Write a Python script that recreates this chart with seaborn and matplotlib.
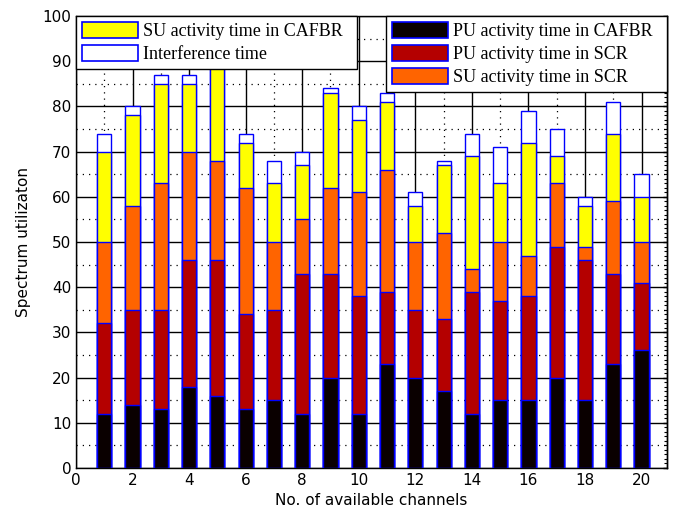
import numpy as np
import pandas as pd
import matplotlib
matplotlib.use("Agg")
import matplotlib.pyplot as plt
from matplotlib.patches import Patch
from matplotlib.ticker import MultipleLocator, NullFormatter
import seaborn as sns

# ---- data (segment heights, stacked bottom -> top) ----
channels = list(range(1, 21))
pu_cafbr = [12, 14, 13, 18, 16, 13, 15, 12, 20, 12, 23, 20, 17, 12, 15, 15, 20, 15, 23, 26]
pu_scr = [20, 21, 22, 28, 30, 21, 20, 31, 23, 26, 16, 15, 16, 27, 22, 23, 29, 31, 20, 15]
su_scr = [18, 23, 28, 24, 22, 28, 15, 12, 19, 23, 27, 15, 19, 5, 13, 9, 14, 3, 16, 9]
su_cafbr = [20, 20, 22, 15, 22, 10, 13, 12, 21, 16, 15, 8, 15, 25, 13, 25, 6, 9, 15, 10]
interference = [4, 2, 2, 2, 2, 2, 5, 3, 1, 3, 2, 3, 1, 5, 8, 7, 6, 2, 7, 5]

series_names = ["PU activity time in CAFBR", "PU activity time in SCR",
                "SU activity time in SCR", "SU activity time in CAFBR",
                "Interference time"]
series_vals = [pu_cafbr, pu_scr, su_scr, su_cafbr, interference]
colors = ["#0a0000", "#b40000", "#ff6400", "#ffff00", "#ffffff"]
edge = "#0000ff"

cum = np.cumsum(np.array(series_vals, dtype=float), axis=0)

fig = plt.figure(figsize=(6.78, 5.18), dpi=100)
ax_left, ax_right, ax_top, ax_bot = 76, 667, 16, 468
ax = fig.add_axes([ax_left / 678, 1 - ax_bot / 518,
                   (ax_right - ax_left) / 678, (ax_bot - ax_top) / 518])

# draw from the tallest cumulative down so that lower segments overlay
for i in range(len(series_names) - 1, -1, -1):
    df = pd.DataFrame({"channel": channels, "value": cum[i]})
    sns.barplot(data=df, x="channel", y="value", native_scale=True, width=0.5,
                color=colors[i], saturation=1, edgecolor=edge, linewidth=1.0,
                errorbar=None, ax=ax, zorder=3)

ax.set_xlim(0, 20.9)
ax.set_ylim(0, 100)
ax.xaxis.set_major_locator(MultipleLocator(2))
ax.xaxis.set_minor_locator(MultipleLocator(1))
ax.yaxis.set_major_locator(MultipleLocator(10))
ax.yaxis.set_minor_locator(MultipleLocator(5))
ax.set_axisbelow(True)
ax.grid(which="major", color="black", linestyle="-", linewidth=1.0)
ax.grid(which="minor", color="black", linestyle=(0, (1, 4)), linewidth=0.9)
ax.tick_params(which="both", direction="in", top=False, right=False, labelsize=11,
               length=0)
for s in ax.spines.values():
    s.set_color("black")
    s.set_linewidth(1.0)

# dense inward minor ticks on the right spine
sec = ax.secondary_yaxis("right")
sec.yaxis.set_major_locator(MultipleLocator(10))
sec.yaxis.set_minor_locator(MultipleLocator(1))
sec.yaxis.set_major_formatter(NullFormatter())
sec.tick_params(which="major", direction="in", length=3, width=1)
sec.tick_params(which="minor", direction="in", length=2, width=0.8)
sec.spines["right"].set_linewidth(1.0)

ax.set_xlabel("No. of available channels", fontsize=11, family="DejaVu Sans",
              labelpad=4)
ax.set_ylabel("Spectrum utilizaton", fontsize=11, family="DejaVu Sans",
              labelpad=8)

legfont = {"family": "Liberation Serif", "size": 13}
h_left = [Patch(facecolor=colors[3], edgecolor=edge, linewidth=1.2, label=series_names[3]),
          Patch(facecolor=colors[4], edgecolor=edge, linewidth=1.2, label=series_names[4])]
h_right = [Patch(facecolor=colors[k], edgecolor=edge, linewidth=1.2, label=series_names[k])
           for k in (0, 1, 2)]

axw = ax_right - ax_left
lw_frac = (357 - ax_left) / axw
rx0 = (386 - ax_left) / axw
common = dict(prop=legfont, fancybox=False, framealpha=1, edgecolor="black",
              handlelength=3.1, handleheight=1.0, handletextpad=0.3,
              borderaxespad=0, labelspacing=0.25, borderpad=0.33, mode="expand")
leg1 = ax.legend(handles=h_left, loc="upper left",
                 bbox_to_anchor=(0, 0, lw_frac, 1), **common)
leg1.get_frame().set_linewidth(1.0)
leg1.set_zorder(10)
ax.add_artist(leg1)
leg2 = ax.legend(handles=h_right, loc="upper left",
                 bbox_to_anchor=(rx0, 0, 1 - rx0, 1), **common)
leg2.get_frame().set_linewidth(1.0)
leg2.set_zorder(10)

fig.savefig("out.png", dpi=100)
